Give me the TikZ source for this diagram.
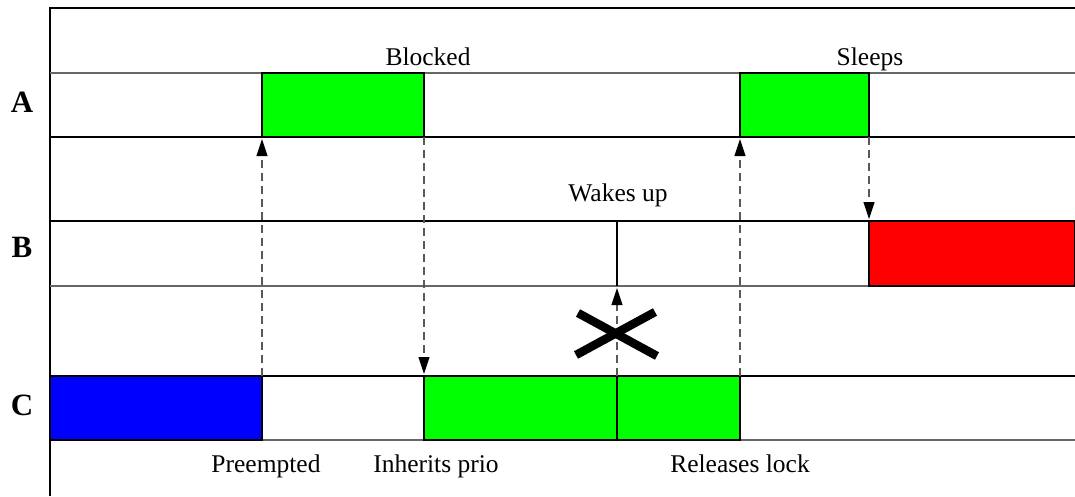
\documentclass[tikz,border=0pt]{standalone}
\usepackage{fontspec}
\setmainfont{Liberation Serif}
\usetikzlibrary{arrows.meta}
\begin{document}
\begin{tikzpicture}[x=1pt,y=-1pt,
  rowline/.style={draw=black,line width=1.2pt},
  grayline/.style={draw=black!60,line width=1.4pt},
  task/.style={draw=black,line width=1.1pt,anchor=north west,inner sep=0pt,outer sep=0pt},
  evt/.style={draw=black!65,line width=1.1pt,dash pattern=on 8pt off 5pt,shorten >=2pt,
    -{Triangle[length=17pt,width=11pt,color=black]}},
  lbl/.style={font=\fontsize{25.5}{30}\selectfont,anchor=base,inner sep=0pt},
  rowname/.style={font=\fontsize{31}{36}\selectfont\bfseries,anchor=base,inner sep=0pt},
  cross/.style={line width=8.5pt,draw=black}]
\useasboundingbox (0,0) rectangle (1075,496);
% frame
\draw[rowline] (50,496) -- (50,8) -- (1075,8);
% row lines
\draw[grayline] (50,73) -- (1075,73);
\draw[rowline] (50,137) -- (1075,137);
\draw[rowline] (50,221) -- (1075,221);
\draw[grayline] (50,286) -- (1075,286);
\draw[rowline] (50,376) -- (1075,376);
\draw[grayline] (50,440) -- (1075,440);
% task boxes
\node[task,fill=green,minimum width=162pt,minimum height=64pt] (a1) at (262,73) {};
\node[task,fill=green,minimum width=129pt,minimum height=64pt] (a2) at (740,73) {};
\node[task,fill=red,minimum width=206pt,minimum height=65pt] (b1) at (869,221) {};
\node[task,fill=blue,minimum width=212pt,minimum height=64pt] (c1) at (50,376) {};
\node[task,fill=green,minimum width=193pt,minimum height=64pt] (c2) at (424,376) {};
\node[task,fill=green,minimum width=123pt,minimum height=64pt] (c3) at (617,376) {};
% wake-up marker in B
\coordinate (bw1) at (617,221);
\coordinate (bw2) at (617,286);
\draw[line width=1.2pt] (bw1) -- (bw2);
% events
\draw[evt] (c1.north east) -- (a1.south west);
\draw[evt] (a1.south east) -- (c2.north west);
\draw[evt] (c3.north west) -- (bw2);
\draw[evt] (c3.north east) -- (a2.south west);
\draw[evt] (a2.south east) -- (b1.north west);
% cross
\coordinate (x1) at (578,313);
\coordinate (x2) at (657,356);
\coordinate (x3) at (576,355);
\coordinate (x4) at (655,312);
\draw[cross] (x1) -- (x2);
\draw[cross] (x3) -- (x4);
% labels
\node[lbl] (tblk) at (428,65) {Blocked};
\node[lbl] (tslp) at (870,65) {Sleeps};
\node[lbl] (twak) at (618,201) {Wakes up};
\node[lbl] (tpre) at (266,472) {Preempted};
\node[lbl] (tinh) at (436,472) {Inherits prio};
\node[lbl] (trel) at (740,472) {Releases lock};
\node[rowname] (na) at (22,112) {A};
\node[rowname] (nb) at (22,257) {B};
\node[rowname] (nc) at (22,415) {C};
\end{tikzpicture}
\end{document}
